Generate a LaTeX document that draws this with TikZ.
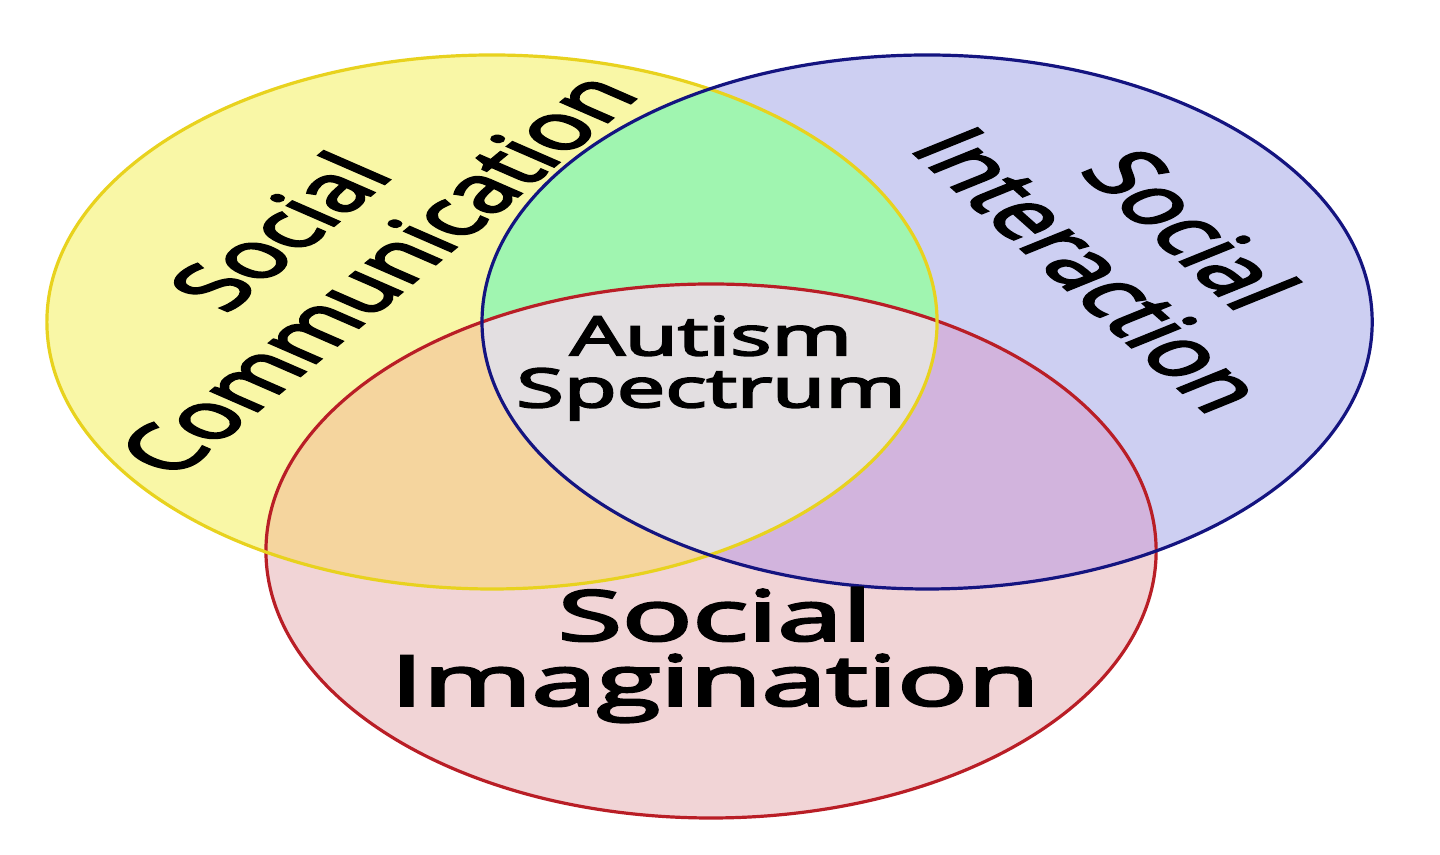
\documentclass[tikz,border=0pt]{standalone}
\usepackage{fontspec}
\setmainfont{Open Sans}
\newfontfamily\lblfont[FakeBold=3.2]{Open Sans}
\definecolor{yfill}{RGB}{249,247,166}
\definecolor{bfill}{RGB}{205,207,242}
\definecolor{rfill}{RGB}{241,212,214}
\definecolor{gfill}{RGB}{160,245,176}
\definecolor{ofill}{RGB}{245,213,158}
\definecolor{pfill}{RGB}{210,180,221}
\definecolor{cfill}{RGB}{227,223,225}
\definecolor{yline}{RGB}{232,210,30}
\definecolor{bline}{RGB}{20,20,128}
\definecolor{rline}{RGB}{185,30,38}
\tikzset{
  ring/.style={line width=1.6pt},
  lbl/.style={align=center, inner sep=0pt, text=black},
  biglbl/.style={lbl, font=\lblfont\fontsize{32}{36}\selectfont},
  midlbl/.style={lbl, font=\lblfont\fontsize{35}{32.5}\selectfont},
  smalllbl/.style={lbl, font=\lblfont\fontsize{27}{26}\selectfont},
}
\begin{document}
\begin{tikzpicture}[x=0.5pt,y=0.5pt]
\useasboundingbox (0,0) rectangle (1440,855);
\fill[white] (0,0) rectangle (1440,855);
\begin{scope}[xscale=1.667, transform shape]
  \def\R{267}
  \coordinate (Y) at (295.1,533);
  \coordinate (B) at (556.1,533);
  \coordinate (Rc) at (426.5,304);
  \fill[yfill] (Y) circle (\R);
  \fill[bfill] (B) circle (\R);
  \fill[rfill] (Rc) circle (\R);
  \begin{scope}\clip (Y) circle (\R); \fill[gfill] (B) circle (\R);\end{scope}
  \begin{scope}\clip (Y) circle (\R); \fill[ofill] (Rc) circle (\R);\end{scope}
  \begin{scope}\clip (B) circle (\R); \fill[pfill] (Rc) circle (\R);\end{scope}
  \begin{scope}\clip (Y) circle (\R); \clip (B) circle (\R); \fill[cfill] (Rc) circle (\R);\end{scope}
  \draw[ring, rline] (Rc) circle (\R);
  \draw[ring, yline] (Y) circle (\R);
  \draw[ring, bline] (B) circle (\R);
  \node[biglbl, rotate=54] (comm) at (196,603) {Social\\Communication};
  \node[biglbl, rotate=-56] (inter) at (685,606) {Social\\Interaction};
  \node[smalllbl, xscale=0.96] (autism) at (426.5,487) {Autism\\Spectrum};
  \node[midlbl] (imag) at (428.9,200) {Social\\Imagination};
\end{scope}
\end{tikzpicture}
\end{document}
